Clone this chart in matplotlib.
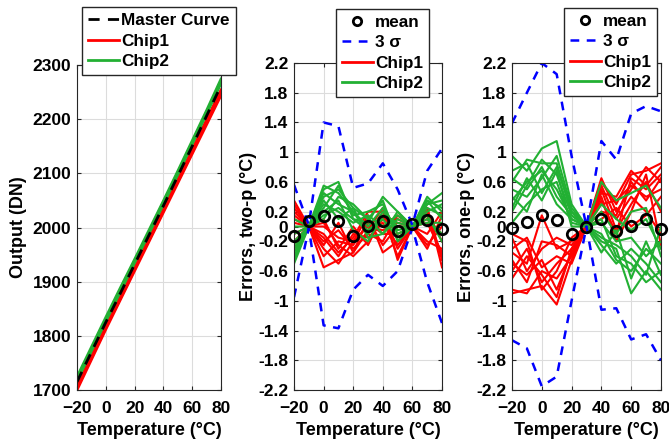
import numpy as np
import matplotlib.pyplot as plt
from matplotlib.lines import Line2D

plt.rcParams['font.family'] = ['Liberation Sans', 'DejaVu Sans']
plt.rcParams['font.weight'] = 'bold'
plt.rcParams['font.size'] = 12.5

# ---------------------------------------------------------------
# data
temps = [-20, -10, 0, 10, 20, 30, 40, 50, 60, 70, 80]

master = [1715, 1770, 1825, 1878, 1932, 1986, 2040, 2095, 2150, 2206, 2262]
red_out = [
    [1700, 1756, 1812, 1866, 1920, 1974, 2028, 2082, 2136, 2190, 2244],
    [1704, 1760, 1815, 1869, 1923, 1977, 2031, 2086, 2140, 2195, 2250],
    [1708, 1763, 1818, 1872, 1926, 1980, 2034, 2089, 2144, 2199, 2254],
]
green_out = [
    [1720, 1775, 1830, 1884, 1938, 1992, 2046, 2101, 2157, 2213, 2270],
    [1724, 1779, 1834, 1888, 1941, 1995, 2049, 2104, 2160, 2216, 2274],
    [1717, 1772, 1827, 1881, 1935, 1989, 2043, 2098, 2154, 2210, 2266],
]

# two-point calibration errors
mean_two = [-0.13, 0.07, 0.14, 0.07, -0.13, 0.01, 0.08, -0.06, 0.04, 0.09, -0.03]
sig_two_hi = [0.56, 0.02, 1.4, 1.35, 0.52, 0.58, 0.85, 0.5, 0.02, 0.75, 1.05]
sig_two_lo = [-0.95, -0.02, -1.33, -1.37, -0.85, -0.65, -0.8, -0.6, -0.02, -0.75, -1.3]
red_two = [
    [0.35, 0, -0.55, -0.45, -0.35, -0.05, 0.25, -0.45, 0, 0.25, -0.55],
    [0.25, 0, -0.3, -0.5, -0.2, 0.15, -0.35, -0.2, 0, 0.15, -0.4],
    [0.15, 0, 0.05, -0.25, -0.4, -0.2, 0.1, 0.1, 0, -0.2, -0.3],
    [0.1, 0, -0.1, -0.35, -0.15, 0.2, 0.2, -0.3, 0, 0.1, -0.1],
    [-0.3, 0, -0.2, -0.05, -0.3, -0.1, -0.2, 0.15, 0, -0.3, 0.15],
    [0.05, 0, -0.4, -0.2, -0.25, 0.05, -0.1, -0.1, 0, 0.2, -0.2],
    [-0.1, 0, 0.1, -0.3, 0.0, -0.25, 0.15, -0.4, 0, -0.1, 0.2],
    [0.2, 0, -0.25, 0.05, -0.35, 0.1, -0.25, 0.0, 0, 0.25, -0.45],
    [-0.2, 0, -0.15, -0.4, -0.1, -0.15, 0.05, -0.25, 0, -0.25, 0.0],
    [0.3, 0, 0.0, -0.15, -0.2, 0.0, -0.05, 0.05, 0, 0.05, -0.35],
]
green_two = [
    [-0.5, 0, 0.5, 0.6, 0.1, 0.05, 0.4, 0.2, 0, 0.35, 0.1],
    [-0.4, 0, 0.45, 0.3, 0.2, -0.1, 0.2, 0.0, 0, 0.3, 0.45],
    [-0.3, 0, 0.25, 0.55, 0.15, 0.2, 0.3, -0.1, 0, 0.2, 0.3],
    [-0.2, 0, 0.35, 0.1, 0.25, -0.15, -0.1, 0.1, 0, 0.4, 0.2],
    [-0.1, 0, 0.1, 0.4, 0.3, 0.1, 0.35, -0.2, 0, 0.1, -0.1],
    [0.1, 0, 0.3, 0.2, 0.05, 0.15, 0.0, 0.15, 0, 0.25, 0.15],
    [-0.45, 0, 0.55, 0.45, 0.2, 0.0, 0.25, -0.05, 0, 0.3, 0.35],
    [0.0, 0, 0.2, 0.35, -0.05, -0.2, 0.15, 0.05, 0, 0.15, -0.2],
    [-0.25, 0, 0.4, 0.5, 0.25, 0.1, -0.1, 0.2, 0, 0.35, 0.25],
    [-0.35, 0, 0.15, 0.25, 0.1, -0.05, 0.1, -0.15, 0, 0.05, 0.05],
]

# one-point calibration errors
mean_one = [-0.02, 0.06, 0.15, 0.09, -0.1, 0.0, 0.1, -0.06, 0.01, 0.1, -0.04]
sig_one_hi = [1.39, 1.8, 2.2, 2.05, 0.95, 0.0, 1.15, 0.9, 1.52, 1.62, 1.55]
sig_one_lo = [-1.53, -1.64, -2.15, -2.02, -1.0, 0.0, -1.12, -1.1, -1.52, -1.45, -1.8]
red_one = [
    [-0.9, -0.85, -0.8, -1.05, -0.45, 0, 0.6, 0.3, 0.7, 0.75, 0.85],
    [-0.85, -0.9, -0.6, -0.7, -0.4, 0, 0.45, 0.4, 0.75, 0.55, 0.8],
    [-0.6, -0.3, -0.75, -0.5, -0.3, 0, 0.65, 0.2, 0.5, 0.8, 0.6],
    [-0.5, -0.65, -0.45, -0.85, -0.35, 0, 0.3, 0.35, 0.55, 0.4, 0.5],
    [-0.35, -0.5, 0.15, -0.3, -0.2, 0, 0.5, -0.05, 0.3, 0.6, 0.2],
    [-0.3, -0.15, -0.55, -0.4, -0.5, 0, 0.2, 0.15, 0.6, 0.35, 0.65],
    [-0.15, -0.6, -0.3, -0.15, -0.25, 0, 0.4, -0.2, 0.2, 0.7, -0.25],
    [-0.1, -0.2, -0.85, -0.6, -0.15, 0, 0.1, 0.25, 0.0, 0.15, 0.4],
    [-0.45, -0.75, -0.2, -0.25, -0.4, 0, 0.55, 0.1, 0.4, 0.2, -0.1],
    [-0.7, -0.4, -0.65, -0.95, -0.3, 0, 0.35, -0.1, 0.65, 0.5, 0.7],
]
green_one = [
    [0.95, 0.75, 1.05, 1.15, 0.3, 0, 0.6, 0.35, 0.45, 0.55, 0.25],
    [0.6, 0.9, 0.85, 0.85, 0.2, 0, -0.2, -0.3, -0.9, -0.6, -0.85],
    [0.2, 0.55, 0.9, 0.7, 0.15, 0, 0.1, -0.4, -0.5, -0.75, -0.6],
    [0.35, 0.6, 0.75, 0.5, 0.1, 0, -0.25, -0.5, -0.3, -0.5, -0.75],
    [0.5, 0.4, 0.65, 0.95, 0.25, 0, 0.2, -0.1, 0.2, 0.25, -0.4],
    [0.05, 0.3, 0.5, 0.6, 0.05, 0, -0.1, -0.45, -0.6, -0.3, -0.5],
    [0.75, 0.85, 0.45, 0.8, 0.2, 0, 0.05, -0.2, -0.15, -0.4, -0.2],
    [0.4, 0.2, 0.7, 0.3, 0.1, 0, -0.35, -0.05, -0.7, -0.2, -0.65],
    [0.25, 0.65, 0.35, 0.75, 0.0, 0, -0.15, -0.25, -0.4, -0.65, 0.0],
    [0.65, 0.5, 0.8, 0.4, 0.15, 0, 0.3, 0.1, -0.05, 0.1, -0.3],
]

xticks = [-20, 0, 20, 40, 60, 80]
err_ticks = [-2.2, -1.8, -1.4, -1, -0.6, -0.2, 0, 0.2, 0.6, 1, 1.4, 1.8, 2.2]

RED = '#ff0000'
GREEN = '#22b033'
BLUE = '#0000ff'
LEG = dict(fancybox=False, edgecolor='#262626', framealpha=1,
           handlelength=1.8, handletextpad=0.15, borderpad=0.35,
           labelspacing=0.32, borderaxespad=0,
           prop={'weight': 'bold', 'size': 12.3})

fig = plt.figure(figsize=(6.69, 4.45), dpi=100)
ax1 = fig.add_axes([0.1151, 0.1236, 0.2152, 0.7303])
ax2 = fig.add_axes([0.4395, 0.1236, 0.2212, 0.7348])
ax3 = fig.add_axes([0.7653, 0.1236, 0.2227, 0.7348])


def style(ax):
    ax.set_xlim(-20, 80)
    ax.set_xticks(xticks)
    ax.grid(True, color='#dcdcdc', lw=0.8)
    ax.set_axisbelow(True)
    ax.tick_params(direction='in', top=True, right=True, length=3,
                   width=0.8, color='#262626', labelsize=12.5)
    ax.tick_params(axis='x', pad=8)
    ax.tick_params(axis='y', pad=4)
    for s in ax.spines.values():
        s.set_color('#262626')
        s.set_linewidth(0.8)
    ax.set_xlabel('Temperature (°C)', fontsize=13, fontweight='bold', labelpad=4)


# ---- panel 1: output curves
style(ax1)
for y in red_out:
    ax1.plot(temps, y, color=RED, lw=2)
for y in green_out:
    ax1.plot(temps, y, color=GREEN, lw=2)
ax1.plot(temps, master, color='k', lw=2, ls=(0, (4, 3)))
ax1.set_ylim(1700, 2300)
ax1.set_yticks(range(1700, 2301, 100))
ax1.set_ylabel('Output (DN)', fontsize=13, fontweight='bold', labelpad=4)
h1 = [Line2D([], [], color='k', lw=2, ls=(0, (4, 3))),
      Line2D([], [], color=RED, lw=2),
      Line2D([], [], color=GREEN, lw=2)]
ax1.legend(h1, ['Master Curve', 'Chip1', 'Chip2'], loc='upper left',
           bbox_to_anchor=(0.1226, 0.984), bbox_transform=fig.transFigure, **LEG)


def err_panel(ax, reds, greens, hi, lo, mean, ylabel, anchor):
    style(ax)
    for y in reds:
        ax.plot(temps, y, color=RED, lw=1.5)
    for y in greens:
        ax.plot(temps, y, color=GREEN, lw=1.5)
    ax.plot(temps, hi, color=BLUE, lw=1.8, ls=(0, (3.5, 3)))
    ax.plot(temps, lo, color=BLUE, lw=1.8, ls=(0, (3.5, 3)))
    ax.plot(temps, mean, ls='none', marker='o', ms=7.5, mfc='none',
            mec='k', mew=2, clip_on=False, zorder=5)
    ax.set_ylim(-2.2, 2.2)
    ax.set_yticks(err_ticks)
    ax.set_yticklabels(['%g' % t for t in err_ticks])
    ax.set_ylabel(ylabel, fontsize=13, fontweight='bold', labelpad=1)
    hs = [Line2D([], [], ls='none', marker='o', ms=6, mfc='none', mec='k', mew=2),
          Line2D([], [], color=BLUE, lw=1.8, ls=(0, (3.5, 3))),
          Line2D([], [], color=RED, lw=2),
          Line2D([], [], color=GREEN, lw=2)]
    ax.legend(hs, ['mean', '3 σ', 'Chip1', 'Chip2'], loc='upper left',
              bbox_to_anchor=anchor, bbox_transform=fig.transFigure, **LEG)


err_panel(ax2, red_two, green_two, sig_two_hi, sig_two_lo, mean_two,
          'Errors, two-p (°C)', (0.502, 0.98))
err_panel(ax3, red_one, green_one, sig_one_hi, sig_one_lo, mean_one,
          'Errors, one-p (°C)', (0.843, 0.982))

fig.savefig('out.png', dpi=100)
